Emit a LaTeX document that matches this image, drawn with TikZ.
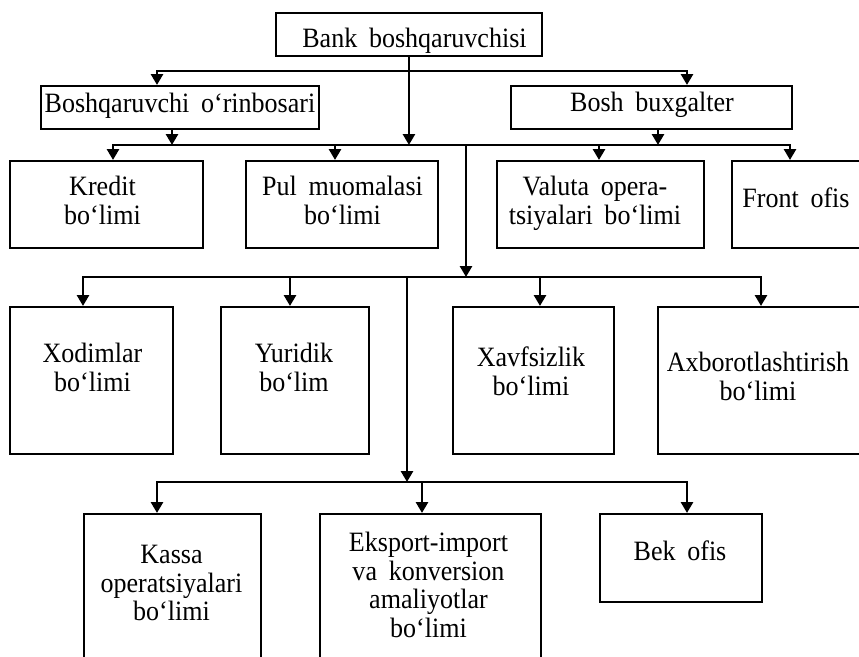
\documentclass[tikz,border=0pt]{standalone}
\usepackage{fontspec}
\setmainfont{Liberation Serif}[WordSpace=1.8, FakeStretch=0.93]
\usetikzlibrary{arrows.meta}
\newcommand\deptfont{\fontsize{28}{28.6}\selectfont}
\begin{document}
\begin{tikzpicture}[x=1pt,y=-1pt,
  box/.style={draw, line width=1.9pt, inner sep=0pt, anchor=north west},
  lbl/.style={inner sep=0pt, anchor=north, align=center, font=\deptfont},
  bus/.style={line width=2.2pt, line cap=rect},
  feed/.style={line width=2.8pt, -{Triangle[length=11pt,width=12pt]}}]
\path[use as bounding box, fill=white] (0,0) rectangle (859,656);

% management level
\node[box, minimum width=266pt, minimum height=43pt] (bank) at (275,12) {};
\node[lbl] (bankT) at (414.5,27.9) {Bank boshqaruvchisi};
\node[box, minimum width=278pt, minimum height=43pt] (dep) at (40,85) {};
\node[lbl] (depT) at (180,92.9) {Boshqaruvchi o‘rinbosari};
\node[box, minimum width=281pt, minimum height=43pt] (bux) at (510,85) {};
\node[lbl] (buxT) at (652,91.9) {Bosh buxgalter};

% second row of departments
\node[box, minimum width=193pt, minimum height=87pt] (kredit) at (9,160) {};
\node[lbl] (kreditT) at (102.5,175.9) {Kredit\\bo‘limi};
\node[box, minimum width=192pt, minimum height=87pt] (pul) at (245,160) {};
\node[lbl] (pulT) at (342.5,175.9) {Pul muomalasi\\bo‘limi};
\node[box, minimum width=207pt, minimum height=87pt] (valuta) at (496,160) {};
\node[lbl] (valutaT) at (595,175.9) {Valuta opera-\\tsiyalari bo‘limi};
\node[box, minimum width=131pt, minimum height=87pt] (front) at (731,160) {};
\node[lbl] (frontT) at (796,187.9) {Front ofis};

% third row
\node[box, minimum width=163pt, minimum height=147pt] (xodim) at (9,306) {};
\node[lbl] (xodimT) at (92.5,342.9) {Xodimlar\\bo‘limi};
\node[box, minimum width=148pt, minimum height=147pt] (yurid) at (220,306) {};
\node[lbl] (yuridT) at (294,342.9) {Yuridik\\bo‘lim};
\node[box, minimum width=161pt, minimum height=147pt] (xavf) at (452,306) {};
\node[lbl] (xavfT) at (531,346.9) {Xavfsizlik\\bo‘limi};
\node[box, minimum width=203pt, minimum height=147pt] (axb) at (657,306) {};
\node[lbl] (axbT) at (758,351.9) {Axborotlashtirish\\bo‘limi};

% fourth row
\node[box, minimum width=177pt, minimum height=160pt] (kassa) at (83,513) {};
\node[lbl] (kassaT) at (171.5,544.9) {Kassa\\operatsiyalari\\bo‘limi};
\node[box, minimum width=221pt, minimum height=160pt] (eksport) at (319,513) {};
\node[lbl] (eksportT) at (428.5,531.9) {Eksport-import\\va konversion\\amaliyotlar\\bo‘limi};
\node[box, minimum width=162pt, minimum height=88pt] (bek) at (599,513) {};
\node[lbl] (bekT) at (680,540.9) {Bek ofis};

% bus under the chairman
\coordinate (b1l) at (157,71);
\coordinate (b1r) at (687,71);
\draw[bus] (b1l) -- (b1r);
\draw[feed] (b1l) -- (b1l |- dep.north);
\draw[feed] (b1r) -- (b1r |- bux.north);

% bus feeding the second row
\coordinate (b2l) at (113,145);
\coordinate (b2r) at (790,145);
\draw[bus] (b2l) -- (b2r);
\draw[feed] (bank.south) -- (bank.south |- b2l);
\coordinate (u2a) at (172,145);
\draw[feed] (u2a |- dep.south) -- (u2a);
\coordinate (u2b) at (658,145);
\draw[feed] (u2b |- bux.south) -- (u2b);
\draw[feed] (b2l) -- (b2l |- kredit.north);
\coordinate (d2a) at (335,145);
\draw[feed] (d2a) -- (d2a |- pul.north);
\coordinate (d2b) at (599,145);
\draw[feed] (d2b) -- (d2b |- valuta.north);
\draw[feed] (b2r) -- (b2r |- front.north);

% bus feeding the third row
\coordinate (k1) at (466,145);
\coordinate (b3l) at (83,277);
\coordinate (b3r) at (761,277);
\draw[bus] (b3l) -- (b3r);
\draw[feed] (k1) -- (k1 |- b3l);
\draw[feed] (b3l) -- (b3l |- xodim.north);
\coordinate (d3a) at (290,277);
\draw[feed] (d3a) -- (d3a |- yurid.north);
\coordinate (d3b) at (540,277);
\draw[feed] (d3b) -- (d3b |- xavf.north);
\draw[feed] (b3r) -- (b3r |- axb.north);

% bus feeding the fourth row
\coordinate (k2) at (407,277);
\coordinate (b4l) at (157,482);
\coordinate (b4r) at (687,482);
\draw[bus] (b4l) -- (b4r);
\draw[feed] (k2) -- (k2 |- b4l);
\draw[feed] (b4l) -- (b4l |- kassa.north);
\coordinate (d4a) at (422,482);
\draw[feed] (d4a) -- (d4a |- eksport.north);
\draw[feed] (b4r) -- (b4r |- bek.north);
\end{tikzpicture}
\end{document}
